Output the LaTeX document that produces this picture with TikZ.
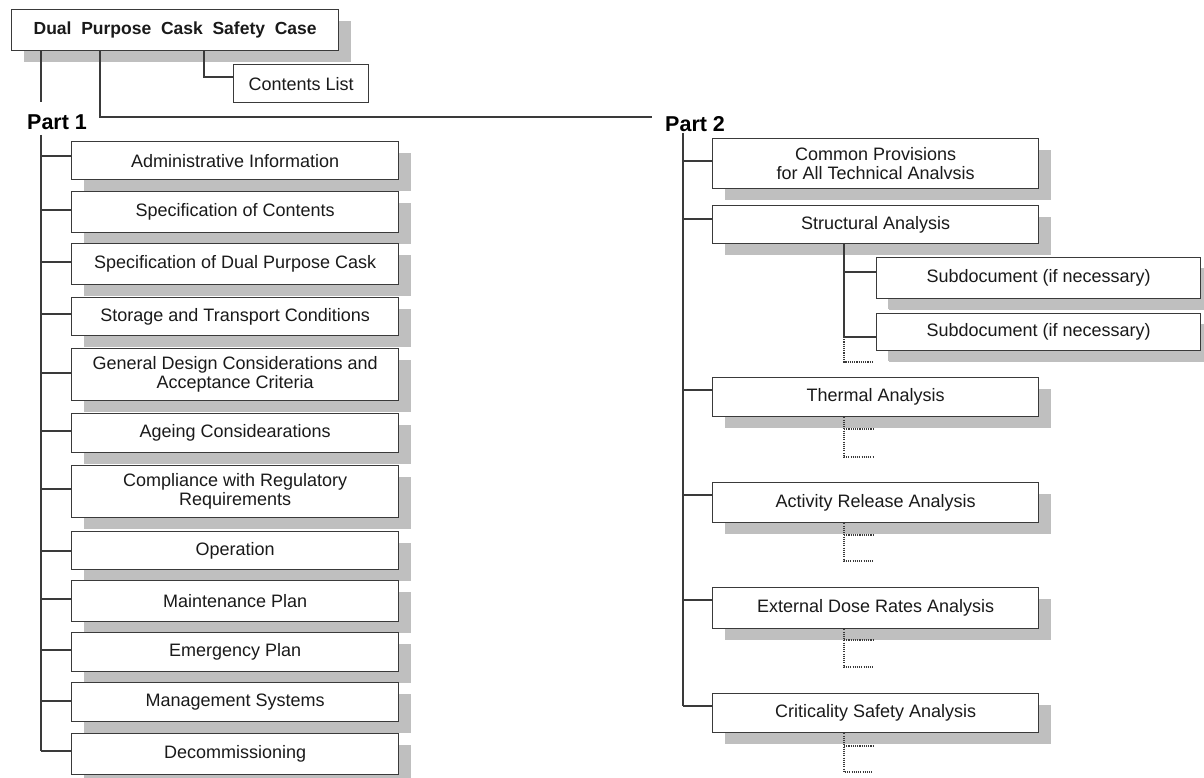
\documentclass[tikz,border=0pt]{standalone}
\usepackage{fontspec}
\setmainfont{Liberation Sans}
\newfontfamily\titlefont[WordSpace={2.0}]{Liberation Sans}
\usetikzlibrary{shadows}
\definecolor{ink}{HTML}{1A1A1A}
\definecolor{edge}{HTML}{3A3A3A}
\definecolor{shade}{HTML}{BFBFBF}
\tikzset{
  boxbase/.style={draw=edge, line width=1.3pt, fill=white, inner sep=0pt,
    anchor=north west, align=center, text=ink,
    font=\fontsize{18}{19}\selectfont},
  shadowed/.style={boxbase, drop shadow={shadow xshift=12pt, shadow yshift=-11pt, fill=shade, opacity=1}},
  lbox/.style={shadowed, minimum width=327pt},
  rbox/.style={shadowed, minimum width=326pt},
  link/.style={draw=edge, line width=1.3pt},
  stub/.style={draw=edge, line width=1.3pt, dash pattern=on 1.1pt off 1.1pt},
  parttitle/.style={font=\bfseries\fontsize{21.5}{24}\selectfont, text=black, inner sep=0pt, anchor=base west},
}
\begin{document}
\begin{tikzpicture}[x=1pt,y=-1pt]
\useasboundingbox[fill=white] (0,0) rectangle (1204,778);

% ---------- top ----------
\node[shadowed, minimum width=327pt, minimum height=41pt,
      font=\titlefont\bfseries\fontsize{17.5}{19}\selectfont] (top) at (11,9) {Dual Purpose Cask Safety Case};
\node[boxbase, minimum width=135pt, minimum height=38pt] (contents) at (233,64) {Contents List};
\node[parttitle] (part1) at (27,130) {Part 1};
\node[parttitle] (part2) at (665,132) {Part 2};

\coordinate (p1in) at (41,102);
\coordinate (p2in) at (652,117);
\coordinate (cj) at (233,77);
\draw[link] ([xshift=30pt]top.south west) -- (p1in);
\draw[link] ([xshift=89pt]top.south west) |- (p2in);
\draw[link] ([xshift=193pt]top.south west) |- (cj);

% ---------- Part 1 ----------
\node[lbox, minimum height=38pt] (l1) at (71,141) {Administrative Information};
\node[lbox, minimum height=41pt] (l2) at (71,191) {Specification of Contents};
\node[lbox, minimum height=41pt] (l3) at (71,243) {Specification of Dual Purpose Cask};
\node[lbox, minimum height=38pt] (l4) at (71,297) {Storage and Transport Conditions};
\node[lbox, minimum height=52pt] (l5) at (71,348) {General Design Considerations and\\Acceptance Criteria};
\node[lbox, minimum height=39pt] (l6) at (71,413) {Ageing Considearations};
\node[lbox, minimum height=52pt] (l7) at (71,465) {Compliance with Regulatory\\Requirements};
\node[lbox, minimum height=38pt] (l8) at (71,531) {Operation};
\node[lbox, minimum height=41pt] (l9) at (71,580) {Maintenance Plan};
\node[lbox, minimum height=39pt] (l10) at (71,632) {Emergency Plan};
\node[lbox, minimum height=39pt] (l11) at (71,682) {Management Systems};
\node[lbox, minimum height=41pt] (l12) at (71,733) {Decommissioning};

\coordinate (b1top) at (41,135);
\coordinate (b1bot) at (41,751);
\draw[link] (b1top) -- (b1bot);
\foreach \n/\y in {1/156,2/210,3/262,4/314,5/373,6/431,7/489,8/551,9/599,10/650,11/701,12/751}{
  \coordinate (j\n) at (41,\y);
  \draw[link] (j\n) -- (j\n -| l\n.west);
}

% ---------- Part 2 ----------
\node[rbox, minimum height=50pt] (r1) at (712,138) {Common Provisions\\for All Technical Analvsis};
\node[rbox, minimum height=38pt] (r2) at (712,205) {Structural Analysis};
\node[rbox, minimum height=39pt] (r3) at (712,377) {Thermal Analysis};
\node[rbox, minimum height=40pt] (r4) at (712,482) {Activity Release Analysis};
\node[rbox, minimum height=41pt] (r5) at (712,587) {External Dose Rates Analysis};
\node[rbox, minimum height=39pt] (r6) at (712,693) {Criticality Safety Analysis};

\node[shadowed, minimum width=324pt, minimum height=41pt, drop shadow={shadow xshift=11pt, shadow yshift=-10pt, fill=shade, opacity=1}] (sub1) at (876,257) {Subdocument (if necessary)};
\node[shadowed, minimum width=324pt, minimum height=37pt, drop shadow={shadow xshift=11pt, shadow yshift=-10pt, fill=shade, opacity=1}] (sub2) at (876,313) {Subdocument (if necessary)};

\coordinate (b2top) at (683,133);
\coordinate (b2bot) at (683,706);
\draw[link] (b2top) -- (b2bot);
\foreach \n/\y in {1/161,2/219,3/390,4/495,5/600,6/706}{
  \coordinate (k\n) at (683,\y);
  \draw[link] (k\n) -- (k\n -| r\n.west);
}

% structural subdocuments
\coordinate (sj1) at (844,272);
\coordinate (sj2) at (844,337);
\coordinate (sd) at (872,362);
\draw[link] ([xshift=132pt]r2.south west) -- (sj2);
\draw[link] (sj1) -- (sj1 -| sub1.west);
\draw[link] (sj2) -- (sj2 -| sub2.west);
\draw[stub] (sj2) |- (sd);

% dotted stubs under the other analyses
\foreach \n/\ya/\yb in {3/429/457,4/535/561,5/640/667,6/746/772}{
  \coordinate (da\n) at (844,\ya);
  \coordinate (ea\n) at (873,\ya);
  \coordinate (eb\n) at (873,\yb);
  \draw[stub] ([xshift=132pt]r\n.south west) |- (eb\n);
  \draw[stub] (da\n) -- (ea\n);
}
\end{tikzpicture}
\end{document}
